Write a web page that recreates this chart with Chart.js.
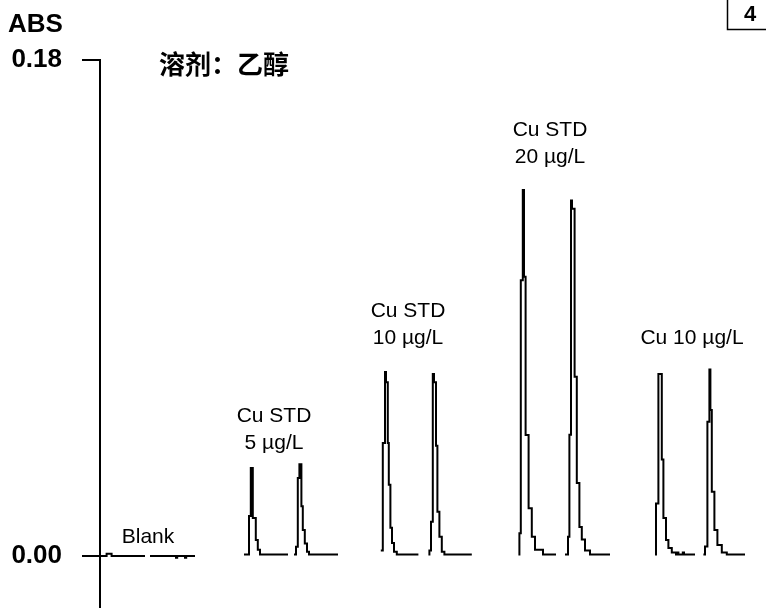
<!DOCTYPE html>
<html>
<head>
<meta charset="utf-8">
<script src="https://cdn.jsdelivr.net/npm/chart.js@4/dist/chart.umd.min.js"></script>
<style>
  body { margin: 0; background: #fff; }
  canvas { display: block; }
</style>
</head>
<body>
<canvas id="chart" width="766" height="608"></canvas>
<script>
// absorbance traces, time in s, ABS
const traceNames = ['Blank', 'Blank', 'Cu STD 5', 'Cu STD 5', 'Cu STD 10', 'Cu STD 10', 'Cu STD 20', 'Cu STD 20', 'Cu 10', 'Cu 10'];
const traceTimes = [
  [0, 3.3, 5.8, 22.5],
  [25, 38, 38.6, 42.5, 43.1, 47.5],
  [72, 74.5, 75.4, 76.4, 77.9, 78.9, 80, 94],
  [97, 98, 98.9, 99.7, 100.7, 101.4, 102.4, 103.5, 104.5, 119],
  [140.4, 141.4, 142.5, 143, 143.9, 144.4, 145.2, 146, 147, 148.4, 159.2],
  [164.2, 164.7, 165.5, 166.4, 167, 168, 168.7, 169.7, 170.9, 172.2, 185.9],
  [209.2, 209.7, 210.4, 211.4, 212, 212.8, 214.3, 215.9, 217.5, 221.5, 228],
  [232.5, 234, 234.7, 235.5, 236, 237.3, 238.4, 239.7, 240.9, 242.5, 245, 255],
  [277.5, 278, 279.2, 280.9, 281.7, 283, 284.2, 285.9, 288, 288.6, 289.2, 291.4, 292, 297.5],
  [301.7, 302.5, 303.7, 304.7, 305.2, 305.9, 307.2, 308.7, 310.9, 313.4, 322.5]
];
const traceAbs = [
  [0, 0.0008, 0, 0],
  [0, -0.0007, 0, -0.0007, 0, 0],
  [0.0005, 0.0145, 0.0319, 0.0138, 0.0058, 0.0022, 0.0005, 0.0005],
  [0.0005, 0.0033, 0.0283, 0.0333, 0.018, 0.0094, 0.0045, 0.0015, 0.0005, 0.0005],
  [0.002, 0.041, 0.0668, 0.063, 0.041, 0.0258, 0.0102, 0.0047, 0.0015, 0.0005, 0.0005],
  [0.0005, 0.002, 0.0124, 0.066, 0.063, 0.040, 0.016, 0.007, 0.0015, 0.0005, 0.0005],
  [0.0005, 0.0082, 0.1001, 0.1328, 0.1013, 0.0439, 0.0173, 0.007, 0.0022, 0.0005, 0.0005],
  [0.0005, 0.007, 0.044, 0.129, 0.126, 0.065, 0.0265, 0.0105, 0.006, 0.002, 0.0005, 0.0005],
  [0.0005, 0.019, 0.066, 0.035, 0.0138, 0.0058, 0.0029, 0.0012, 0.0005, 0.0012, 0.0005, 0.0012, 0.0005, 0.0005],
  [0.0005, 0.0034, 0.0487, 0.0677, 0.053, 0.0233, 0.0094, 0.004, 0.0012, 0.0005, 0.0005]
];
const yTicks = [0, 0.18];
const sampleLabels = [['Blank'], ['Cu STD', '5 µg/L'], ['Cu STD', '10 µg/L'], ['Cu STD', '20 µg/L'], ['Cu 10 µg/L']];

// where each label's last line sits (time, ABS)
const labelAt = [[24, 0.0069], [87, 0.041], [154, 0.0791], [225, 0.1448], [296, 0.0791]];

const datasets = traceTimes.map((times, i) => ({
  label: traceNames[i],
  data: times.map((t, j) => ({x: t, y: traceAbs[i][j]})),
  stepped: true,
  borderColor: '#000',
  borderWidth: 2,
  pointRadius: 0,
  fill: false
}));

const textPlugin = {
  id: 'texts',
  afterDraw(chart) {
    const ctx = chart.ctx;
    const xs = chart.scales.x, ys = chart.scales.y;
    ctx.save();
    ctx.fillStyle = '#000';
    ctx.textBaseline = 'middle';

    ctx.font = 'bold 26px Arial, "Liberation Sans"';
    ctx.textAlign = 'left';
    ctx.fillText('ABS', 8, 25);

    ctx.font = 'bold 26px "Noto Sans CJK SC"';
    ctx.fillText('溶剂：乙醇', 159, 64);

    // page number box
    ctx.strokeStyle = '#000';
    ctx.lineWidth = 1.5;
    ctx.beginPath();
    ctx.moveTo(727.5, 0);
    ctx.lineTo(727.5, 29.5);
    ctx.lineTo(766, 29.5);
    ctx.stroke();
    ctx.font = 'bold 22px Arial, "Liberation Sans"';
    ctx.textAlign = 'center';
    ctx.fillText('4', 750, 15);

    ctx.font = '21px Arial, "Liberation Sans"';
    sampleLabels.forEach((lines, i) => {
      const px = xs.getPixelForValue(labelAt[i][0]);
      const py = ys.getPixelForValue(labelAt[i][1]);
      lines.forEach((s, k) => {
        ctx.fillText(s, px, py - (lines.length - 1 - k) * 27);
      });
    });
    ctx.restore();
  }
};

new Chart(document.getElementById('chart'), {
  type: 'line',
  data: {datasets},
  options: {
    responsive: false,
    animation: false,
    devicePixelRatio: 1,
    layout: {padding: {top: 60, right: 0, bottom: 0, left: 0}},
    plugins: {legend: {display: false}, tooltip: {enabled: false}},
    scales: {
      x: {type: 'linear', min: 0, max: 333, display: false},
      y: {
        min: -0.0189,
        max: 0.18,
        afterBuildTicks: s => { s.ticks = yTicks.map(v => ({value: v})); },
        afterFit: s => { s.width = 100; s.paddingTop = 0; s.paddingBottom = 0; },
        border: {display: true, color: '#000', width: 2},
        grid: {drawOnChartArea: false, drawTicks: true, tickLength: 18, color: '#000', lineWidth: 2},
        ticks: {
          padding: 20,
          color: '#000',
          font: {size: 26, weight: 'bold', family: 'Arial, "Liberation Sans"'},
          callback: v => v.toFixed(2)
        }
      }
    }
  },
  plugins: [textPlugin]
});
</script>
</body>
</html>
